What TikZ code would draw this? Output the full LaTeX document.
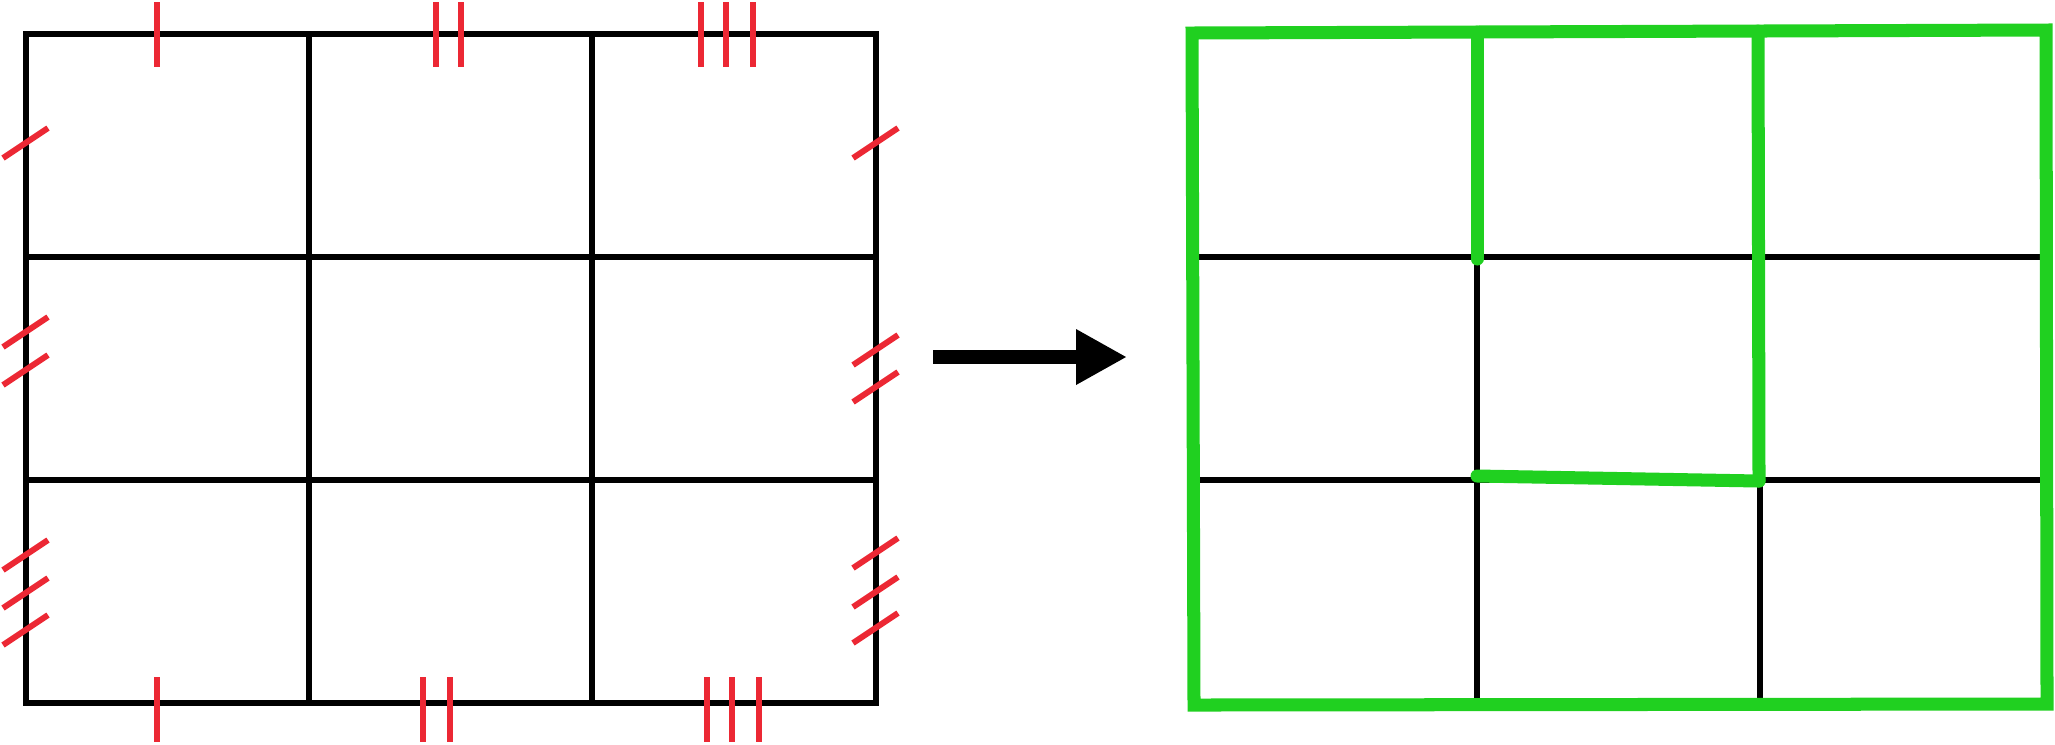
\documentclass[tikz,border=0pt]{standalone}
\usetikzlibrary{calc}
\definecolor{tickred}{RGB}{236,40,52}
\definecolor{pathgreen}{RGB}{32,208,32}
\tikzset{
  gridline/.style={black, line width=1.7pt, line cap=rect},
  tickmark/.style={tickred, line width=1.7pt},
  greenpath/.style={pathgreen, line width=3.7pt, line cap=round, line join=round},
}
\begin{document}
\begin{tikzpicture}[x=0.01cm, y=-0.01cm]
\useasboundingbox (0,0) rectangle (2055,744);
% ---------- left grid ----------
\draw[gridline] (26,34) rectangle (876,703);
\draw[gridline] (309,34) -- (309,703);
\draw[gridline] (592,34) -- (592,703);
\draw[gridline] (26,257) -- (876,257);
\draw[gridline] (26,480) -- (876,480);
% top ticks
\foreach \x in {157,436,461,701,726,753}
  \draw[tickmark] (\x,2) -- (\x,67);
% bottom ticks
\foreach \x in {157,423,450,707,732,759}
  \draw[tickmark] (\x,677) -- (\x,742);
% left slashes
\foreach \y in {143,332,370,555,593,630}
  \draw[tickmark] ($(26,\y)+(-23,15)$) -- ($(26,\y)+(22,-15)$);
% right slashes
\foreach \y in {143,350,387,553,592,628}
  \draw[tickmark] ($(876,\y)+(-23,15)$) -- ($(876,\y)+(22,-15)$);
% ---------- arrow ----------
\coordinate (as) at (933,357);
\coordinate (ah) at (1076,357);
\coordinate (at) at (1126,357);
\fill[black] ($(as)+(0,-7)$) rectangle ($(ah)+(2,7)$);
\fill[black] ($(ah)+(0,-28)$) -- (at) -- ($(ah)+(0,28)$) -- cycle;
% ---------- right grid ----------
\draw[gridline] (1192,257) -- (2046,257);
\draw[gridline] (1192,480) -- (2046,480);
\draw[gridline] (1477,32) -- (1477,704);
\draw[gridline] (1760,480) -- (1760,704);
% green path
\draw[greenpath, line join=miter, line cap=rect] (1192,33) -- (2046,30) -- (2047,704) -- (1194,705) -- cycle;
\draw[greenpath] (1477,32) -- (1477,259);
\draw[greenpath] (1758,31) -- (1759,481);
\draw[greenpath] (1477,476) -- (1759,481);
\end{tikzpicture}
\end{document}
